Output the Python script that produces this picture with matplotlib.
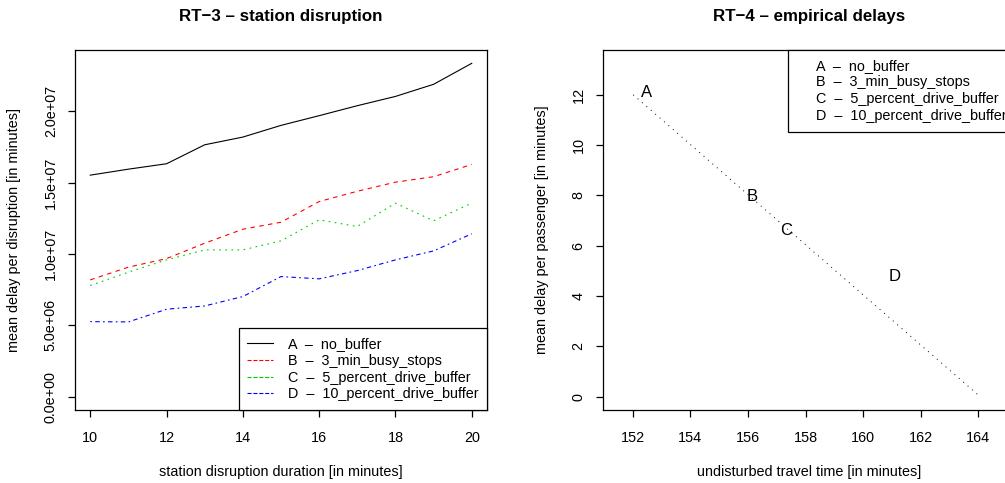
import matplotlib
matplotlib.use("Agg")
import matplotlib.pyplot as plt
from matplotlib.lines import Line2D

plt.rcParams['font.family'] = ['Liberation Sans', 'DejaVu Sans']

# RT-3: mean delay per disruption by disruption duration
duration = [10, 11, 12, 13, 14, 15, 16, 17, 18, 19, 20]
delay_a = [15.53e6, 15.95e6, 16.33e6, 17.66e6, 18.20e6, 19.02e6, 19.70e6, 20.40e6, 21.05e6, 21.90e6, 23.37e6]
delay_b = [8.19e6, 9.08e6, 9.68e6, 10.76e6, 11.74e6, 12.23e6, 13.68e6, 14.40e6, 15.04e6, 15.42e6, 16.28e6]
delay_c = [7.79e6, 8.73e6, 9.59e6, 10.29e6, 10.29e6, 10.92e6, 12.40e6, 11.93e6, 13.57e6, 12.33e6, 13.57e6]
delay_d = [5.26e6, 5.24e6, 6.13e6, 6.36e6, 7.02e6, 8.42e6, 8.26e6, 8.84e6, 9.59e6, 10.22e6, 11.42e6]
scenarios = ["A  \u2013  no_buffer", "B  \u2013  3_min_busy_stops",
             "C  \u2013  5_percent_drive_buffer", "D  \u2013  10_percent_drive_buffer"]
yticks_left = [0, 5e6, 10e6, 15e6, 20e6]
yticklabels_left = ["0.0e+00", "5.0e+06", "1.0e+07", "1.5e+07", "2.0e+07"]

# RT-4: empirical delays
letters = ["A", "B", "C", "D"]
travel_time = [152.49, 156.15, 157.31, 161.10]
pass_delay = [12.17, 8.03, 6.65, 4.83]
line_x = [152.02, 164.06]
line_y = [12.0, 0.0]

fs = 10.4
fig = plt.figure(figsize=(10.05, 4.83), dpi=100)

# left panel
ax1 = fig.add_axes([75/1005, 1 - 410/483, 412/1005, 360/483])
ax1.plot(duration, delay_a, color='black', lw=0.8, ls='-')
ax1.plot(duration, delay_b, color='#ff0000', lw=0.8, ls=(0, (4, 4)))
ax1.plot(duration, delay_c, color='#00cd00', lw=0.8, ls=(0, (1.5, 4)))
ax1.plot(duration, delay_d, color='#0000ff', lw=0.8, ls=(0, (1.5, 3, 4, 3)))
ax1.set_xlim(9.6, 20.4)
ymax = max(delay_a)
ax1.set_ylim(-0.04 * ymax, 1.04 * ymax)
ax1.set_xticks([10, 12, 14, 16, 18, 20])
ax1.set_yticks(yticks_left)
ax1.set_yticklabels(yticklabels_left, rotation=90, va='center')
ax1.set_title("RT\u22123 \u2013 station disruption", fontsize=12.2, fontweight='bold',
              y=1.094, pad=0, va='center')
ax1.set_xlabel("station disruption duration [in minutes]", fontsize=fs)
ax1.set_ylabel("mean delay per disruption [in minutes]", fontsize=fs)
ax1.xaxis.set_label_coords(0.5, -0.172)
ax1.yaxis.set_label_coords(-0.148, 0.5)
ax1.xaxis.label.set_va('center')
ax1.yaxis.label.set_va('center')
handles = [Line2D([], [], color=l.get_color(), lw=0.8, ls=l.get_linestyle()) for l in ax1.get_lines()]
leg1 = ax1.legend(handles, scenarios, loc='lower right', borderaxespad=0, fontsize=fs,
                  fancybox=False, edgecolor='black', framealpha=1, borderpad=0.6,
                  handlelength=1.8, handletextpad=1.0, labelspacing=0.19)
leg1.get_frame().set_linewidth(0.9)

# right panel
ax2 = fig.add_axes([602.7/1005, 1 - 410/483, 412.3/1005, 360/483])
ax2.plot(line_x, line_y, color='black', lw=0.7, ls=(0, (1, 5)))
for lab, x, y in zip(letters, travel_time, pass_delay):
    ax2.text(x, y, lab, fontsize=12, ha='center', va='center_baseline')
ax2.set_xlim(150.96, 165.27)
ax2.set_ylim(-0.53, 13.78)
ax2.set_xticks([152, 154, 156, 158, 160, 162, 164])
ax2.set_yticks([0, 2, 4, 6, 8, 10, 12])
ax2.set_yticklabels(["0", "2", "4", "6", "8", "10", "12"], rotation=90, va='center')
ax2.set_title("RT\u22124 \u2013 empirical delays", fontsize=12.2, fontweight='bold',
              y=1.094, pad=0, va='center')
ax2.set_xlabel("undisturbed travel time [in minutes]", fontsize=fs)
ax2.set_ylabel("mean delay per passenger [in minutes]", fontsize=fs)
ax2.xaxis.set_label_coords(0.5, -0.172)
ax2.yaxis.set_label_coords(-0.147, 0.5)
ax2.xaxis.label.set_va('center')
ax2.yaxis.label.set_va('center')
blank = [Line2D([], [], ls='none') for _ in letters]
leg2 = ax2.legend(blank, scenarios, loc='upper right', borderaxespad=0, fontsize=fs,
                  fancybox=False, edgecolor='black', framealpha=1, borderpad=0.6,
                  handlelength=0.3, handletextpad=1.0, labelspacing=0.19)
leg2.get_frame().set_linewidth(0.9)

for ax in (ax1, ax2):
    for sp in ax.spines.values():
        sp.set_linewidth(0.9)
    ax.tick_params(direction='out', length=5.3, width=0.9, labelsize=fs)
    ax.tick_params(axis='x', pad=9.5)
    ax.tick_params(axis='y', pad=7)

fig.savefig("out.png", dpi=100)
